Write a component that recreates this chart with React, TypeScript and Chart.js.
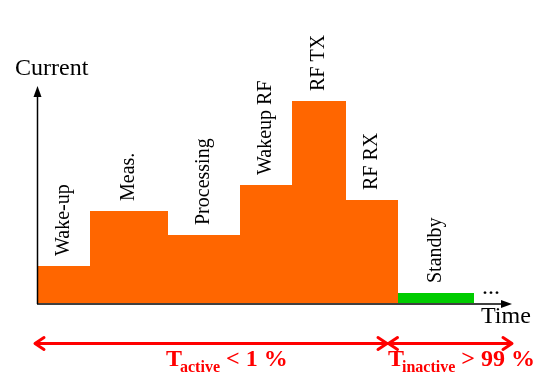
import React, { useEffect, useRef } from "react";
import { Chart, registerables } from "chart.js";

Chart.register(...registerables);

// Active phases (time in arbitrary units, current in arbitrary units)
const phaseLabels = ["Wake-up", "Meas.", "Processing", "Wakeup RF", "RF TX", "RF RX"];
const phaseStarts = [0, 5.2, 13.0, 20.2, 25.4, 30.8];
const activeEnd = 36.0;
const phaseCurrents = [3.7, 9.2, 6.8, 11.8, 20.2, 10.3];

// Inactive phase
const standbyLabel = "Standby";
const standbyStart = 36.0;
const standbyEnd = 43.6;
const standbyCurrent = 1.0;

const xMax = 47.4;
const yMax = 21.7;

const SERIF = '"Liberation Serif", "Times New Roman", serif';

const annotPlugin = {
  id: "annot",
  afterDatasetsDraw(chart: any) {
    const ctx = chart.ctx as CanvasRenderingContext2D;
    const xs = chart.scales.x;
    const ys = chart.scales.y;
    const area = chart.chartArea;
    ctx.save();

    // phase labels (rotated)
    ctx.fillStyle = "#000";
    ctx.font = `20px ${SERIF}`;
    ctx.textAlign = "left";
    ctx.textBaseline = "middle";
    const drawLabel = (text: string, s: number, e: number, v: number) => {
      const cx = (xs.getPixelForValue(s) + xs.getPixelForValue(e)) / 2;
      const top = ys.getPixelForValue(v);
      ctx.save();
      ctx.translate(cx, top - 10);
      ctx.rotate(-Math.PI / 2);
      ctx.fillText(text, 0, 0);
      ctx.restore();
    };
    phaseLabels.forEach((l, i) => {
      const s = phaseStarts[i];
      const e = i + 1 < phaseStarts.length ? phaseStarts[i + 1] : activeEnd;
      drawLabel(l, s, e, phaseCurrents[i]);
    });
    drawLabel(standbyLabel, standbyStart, standbyEnd, standbyCurrent);

    // axes
    const x0 = area.left;
    const y0 = area.bottom;
    ctx.strokeStyle = "#000";
    ctx.fillStyle = "#000";
    ctx.lineWidth = 1.5;
    ctx.beginPath();
    ctx.moveTo(x0 - 0.5, y0 + 1);
    ctx.lineTo(x0 - 0.5, area.top + 8);
    ctx.stroke();
    ctx.beginPath();
    ctx.moveTo(x0 - 0.5, area.top);
    ctx.lineTo(x0 - 4.5, area.top + 11);
    ctx.lineTo(x0 + 3.5, area.top + 11);
    ctx.closePath();
    ctx.fill();

    ctx.beginPath();
    ctx.moveTo(x0 - 1, y0 + 1);
    ctx.lineTo(area.right - 8, y0 + 1);
    ctx.stroke();
    ctx.beginPath();
    ctx.moveTo(area.right, y0 + 1);
    ctx.lineTo(area.right - 11, y0 + 1 - 4);
    ctx.lineTo(area.right - 11, y0 + 1 + 4);
    ctx.closePath();
    ctx.fill();

    // axis titles
    ctx.textBaseline = "alphabetic";
    ctx.font = `24px ${SERIF}`;
    ctx.fillText("Current", 15, 75);
    ctx.fillText("Time", 481, 323);
    ctx.fillText("...", 482, 294);

    // red arrows
    const ay = 343.5;
    ctx.strokeStyle = "#FF0000";
    ctx.fillStyle = "#FF0000";
    ctx.lineWidth = 3;
    ctx.lineCap = "round";
    ctx.lineJoin = "round";
    const left = 35;
    const mid = 387.5;
    const right = 512;
    ctx.beginPath();
    ctx.moveTo(left + 1, ay);
    ctx.lineTo(right - 1, ay);
    ctx.stroke();
    const chevron = (tip: number, dir: number) => {
      ctx.beginPath();
      ctx.moveTo(tip - dir * 9, ay - 6);
      ctx.lineTo(tip, ay);
      ctx.lineTo(tip - dir * 9, ay + 6);
      ctx.stroke();
    };
    chevron(left, -1);
    chevron(mid - 0.5, 1);
    chevron(mid + 1, -1);
    chevron(right, 1);

    const redText = (x: number, sub: string, rest: string) => {
      ctx.font = `bold 24px ${SERIF}`;
      ctx.fillText("T", x, 366);
      let cx = x + ctx.measureText("T").width - 2;
      ctx.font = `bold 16px ${SERIF}`;
      ctx.fillText(sub, cx, 372);
      cx += ctx.measureText(sub).width;
      ctx.font = `bold 24px ${SERIF}`;
      ctx.fillText(rest, cx, 366);
    };
    redText(166, "active", " < 1 %");
    redText(388, "inactive", " > 99 %");

    ctx.restore();
  },
};

export default function App() {
  const ref = useRef<HTMLCanvasElement | null>(null);

  useEffect(() => {
    document.body.style.margin = "0";
    const canvas = ref.current;
    if (!canvas) return;

    const activePoints = phaseStarts.map((s, i) => ({ x: s, y: phaseCurrents[i] }));
    activePoints.push({ x: activeEnd, y: phaseCurrents[phaseCurrents.length - 1] });
    const standbyPoints = [
      { x: standbyStart, y: standbyCurrent },
      { x: standbyEnd, y: standbyCurrent },
    ];

    const chart = new Chart(canvas, {
      type: "line",
      data: {
        datasets: [
          {
            label: "Active",
            data: activePoints,
            stepped: "before",
            fill: "origin",
            backgroundColor: "#FF6600",
            borderColor: "rgba(0,0,0,0)",
            borderWidth: 0,
            pointRadius: 0,
          },
          {
            label: "Standby",
            data: standbyPoints,
            stepped: "before",
            fill: "origin",
            backgroundColor: "#00CC00",
            borderColor: "rgba(0,0,0,0)",
            borderWidth: 0,
            pointRadius: 0,
          },
        ],
      },
      options: {
        animation: false,
        responsive: false,
        devicePixelRatio: 1,
        layout: { padding: { left: 38, right: 554 - 512, top: 86, bottom: 390 - 303 } },
        scales: {
          x: { type: "linear", min: 0, max: xMax, display: false },
          y: { type: "linear", min: 0, max: yMax, display: false },
        },
        plugins: {
          legend: { display: false },
          tooltip: { enabled: false },
        },
      },
      plugins: [annotPlugin],
    } as any);

    return () => chart.destroy();
  }, []);

  return (
    <div style={{ position: "absolute", left: 0, top: 0, width: 554, height: 390, background: "#fff" }}>
      <canvas ref={ref} width={554} height={390} style={{ display: "block" }} />
    </div>
  );
}
